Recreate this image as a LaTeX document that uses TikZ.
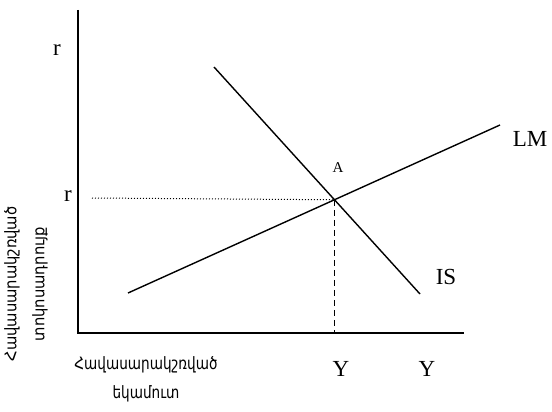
\documentclass[tikz,border=0pt]{standalone}
\usepackage{fontspec}
\setmainfont{Liberation Serif}
\newfontfamily\armfont[FakeStretch=0.92]{DejaVu Sans}
\newfontfamily\armnarrow[FakeStretch=0.8]{DejaVu Sans}
\begin{document}
\begin{tikzpicture}[x=1pt,y=-1pt,
  axis/.style={line width=1.6pt},
  curve/.style={line width=1.4pt},
  lbl/.style={font=\fontsize{23}{25}\selectfont, inner sep=0pt},
  smalllbl/.style={font=\fontsize{15}{17}\selectfont, inner sep=0pt},
  arm/.style={font=\armfont\fontsize{16}{28}\selectfont, align=center, inner sep=0pt},
  armb/.style={font=\armnarrow\fontsize{17}{29}\selectfont, align=center, inner sep=0pt}]
\useasboundingbox (0,0) rectangle (552,412);
% axes
\coordinate (ytop) at (78,10);
\coordinate (orig) at (78,333);
\coordinate (xend) at (464,333);
\draw[axis] (ytop) -- (orig) -- (xend);
% curves
\coordinate (lm1) at (128,293);
\coordinate (lm2) at (500,125);
\coordinate (is1) at (214,67);
\coordinate (is2) at (420,294);
\draw[curve] (lm1) -- (lm2);
\draw[curve] (is1) -- (is2);
\coordinate (E) at (intersection of lm1--lm2 and is1--is2);
\coordinate (dstart) at (92,198);
\coordinate (dend) at (E |- orig);
\draw[line width=1pt, dotted] (dstart) -- (E);
\draw[line width=1.5pt, dash pattern=on 6pt off 4pt] (E) -- (dend);
% labels
\node[lbl] (r1) at (57,50) {r};
\node[lbl] (r2) at (68,196) {r};
\node[lbl] (y1) at (341,369) {Y};
\node[lbl] (y2) at (427,369) {Y};
\node[lbl] (lm) at (530,139) {LM};
\node[lbl] (is) at (446,277) {IS};
\node[smalllbl] (a) at (338,168) {A};
\node[armb] (xlab) at (146,379) {Հավասարակշռված\\եկամուտ};
\node[arm, rotate=90] (ylab) at (26,284) {Հավասարակշռված\\տոկոսադրույք};
\end{tikzpicture}
\end{document}
